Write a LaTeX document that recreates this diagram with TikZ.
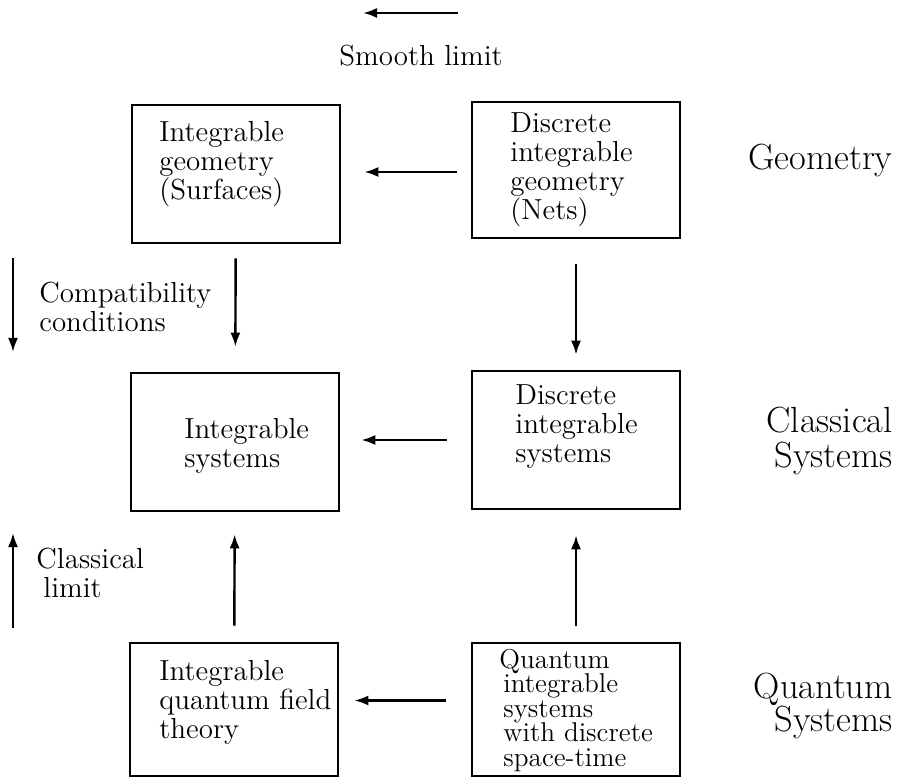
\documentclass[tikz,border=0pt]{standalone}
\usetikzlibrary{arrows.meta,positioning}
\newcommand{\nolskip}{\lineskiplimit-20pt\relax}

\begin{document}
\begin{tikzpicture}[x=0.5pt,y=-0.5pt,
  box/.style={draw, line width=1.3pt, minimum width=104pt, minimum height=69pt, inner sep=0pt},
  txt/.style={align=left, inner sep=0pt, anchor=north west, font=\fontsize{14.5}{14.5}\selectfont\nolskip},
  tight/.style={font=\fontsize{13.6}{12.2}\selectfont\nolskip},
  big/.style={inner sep=0pt, anchor=base east, font=\fontsize{18.2}{16}\selectfont},
  arr/.style={-{Latex[length=7pt,width=5pt]}, line width=1.2pt},
]
\useasboundingbox (0,0) rectangle (903,779);

% boxes
\node[box] (geo)  at (236,174) {};
\node[box, minimum height=68pt] (dgeo) at (576,170) {};
\node[box] (isys) at (235,442) {};
\node[box] (dsys) at (576,440) {};
\node[box, minimum height=66.5pt] (iqft) at (234,709.5) {};
\node[box, minimum height=66.5pt] (qsys) at (576,709.5) {};

% box texts
\node[txt] (geo-t)  at (159,121) {Integrable\\geometry\\(Surfaces)};
\node[txt] (dgeo-t) at (510,112) {Discrete\\integrable\\geometry\\(Nets)};
\node[txt] (isys-t) at (184,418) {Integrable\\systems};
\node[txt] (dsys-t) at (515,384) {Discrete\\integrable\\systems};
\node[txt] (iqft-t) at (159,660) {Integrable\\quantum field\\theory};
\node[txt, tight] (qsys-t) at (499,649) {Quantum\\\hspace*{2pt}integrable\\\hspace*{2pt}systems\\\hspace*{2pt}with discrete\\\hspace*{2pt}space-time};

% arrows between boxes
\draw[arr, shorten <=7pt, shorten >=11.5pt] ([yshift=-1pt]dgeo.west) -- ([yshift=-1pt]dgeo.west -| geo.east);
\draw[arr, shorten <=12pt, shorten >=10.5pt] (dsys.west) -- (dsys.west -| isys.east);
\draw[arr, shorten <=12.5pt, shorten >=7.5pt] ([yshift=4.5pt]qsys.west) -- ([yshift=4.5pt]qsys.west -| iqft.east);
\draw[arr, shorten <=7pt, shorten >=12.5pt] (geo) -- (isys);
\draw[arr, shorten <=12.5pt, shorten >=7.5pt] (dgeo) -- (dsys);
\draw[arr, shorten <=8pt, shorten >=11pt] (iqft) -- (isys);
\draw[arr, shorten <=8pt, shorten >=12.5pt] (qsys) -- (dsys);

% legend arrows
\coordinate (sl-r) at (458,13);
\coordinate (sl-l) at (363,13);
\draw[arr] (sl-r) -- (sl-l);
\node[txt] (smooth) at (339,45) {Smooth limit};

\coordinate (cc-top) at (13,258);
\coordinate (cc-bot) at (13,352);
\draw[arr] (cc-top) -- (cc-bot);
\node[txt] (compat) at (39,282) {Compatibility\\conditions};

\coordinate (cl-bot) at (13,628);
\coordinate (cl-top) at (13,533);
\draw[arr] (cl-bot) -- (cl-top);
\node[txt] (climit) at (36,548) {Classical\\\hspace*{3.5pt}limit};

% row labels
\node[big] (geometry) at (893,170) {Geometry};
\node[big] (classical) at (893,433) {Classical};
\node[big] (csystems) at (893,467) {Systems};
\node[big] (quantum) at (893,698) {Quantum};
\node[big] (qsystems) at (893,731) {Systems};

\end{tikzpicture}
\end{document}
